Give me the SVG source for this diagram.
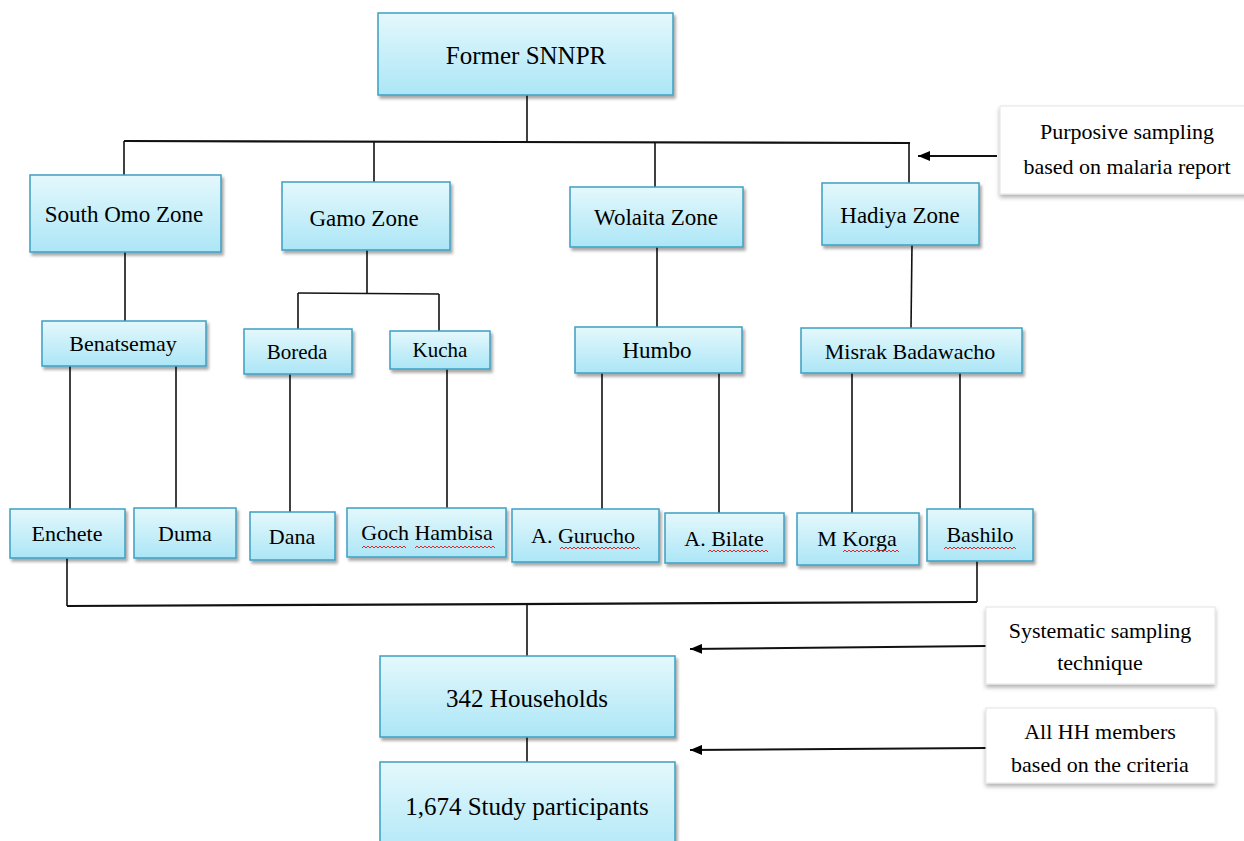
<svg xmlns="http://www.w3.org/2000/svg" width="1244" height="841" viewBox="0 0 1244 841">
<defs>
<linearGradient id="bg" x1="0" y1="0" x2="0" y2="1">
<stop offset="0" stop-color="#e4f8fc"/>
<stop offset="1" stop-color="#ace6f6"/>
</linearGradient>
<filter id="sh" x="-10%" y="-10%" width="125%" height="140%">
<feDropShadow dx="2" dy="3" stdDeviation="1.8" flood-color="#000" flood-opacity="0.35"/>
</filter>
<filter id="sh2" x="-10%" y="-10%" width="125%" height="140%">
<feDropShadow dx="0" dy="3" stdDeviation="2.2" flood-color="#000" flood-opacity="0.3"/>
</filter>
<marker id="ah" markerWidth="13" markerHeight="10" refX="12" refY="5" orient="auto" markerUnits="userSpaceOnUse">
<path d="M0,0 L12,5 L0,10 Z" fill="#000"/>
</marker>
</defs>
<style>
.n rect{fill:url(#bg);stroke:#3d9fc2;stroke-width:1.5;filter:url(#sh)}
.a rect{fill:#fff;stroke:#e4e4e4;stroke-width:1;filter:url(#sh2)}
text{font-family:"Liberation Serif","Times New Roman",serif;fill:#000;text-anchor:middle;dominant-baseline:central}
.t23{font-size:23px}
.t22{font-size:22px}
.t21{font-size:21px}
.t25{font-size:25px}
.c line{stroke:#111;stroke-width:1.6;fill:none}
.c .thick{stroke-width:2.2}
.sq{fill:none;stroke:#e02828;stroke-width:1}
</style>

<g class="c" id="connectors">
<line x1="527" y1="95" x2="527" y2="142"/>
<line class="thick" x1="124" y1="141" x2="910" y2="143"/>
<line x1="124" y1="141" x2="124" y2="175"/>
<line x1="374" y1="142" x2="374" y2="182"/>
<line x1="655" y1="142" x2="655" y2="187"/>
<line x1="909" y1="143" x2="909" y2="183"/>
<line x1="125" y1="252" x2="125" y2="321"/>
<line x1="367" y1="250" x2="367" y2="293"/>
<line x1="298" y1="293" x2="439" y2="294"/>
<line x1="298" y1="293" x2="298" y2="329"/>
<line x1="439" y1="294" x2="439" y2="331"/>
<line x1="657" y1="247" x2="657" y2="327"/>
<line x1="912" y1="245" x2="911" y2="328"/>
<line x1="70" y1="366" x2="70" y2="509"/>
<line x1="176" y1="366" x2="176" y2="508"/>
<line x1="290" y1="374" x2="290" y2="512"/>
<line x1="447" y1="369" x2="447" y2="508"/>
<line x1="602" y1="373" x2="602" y2="509"/>
<line x1="719" y1="373" x2="719" y2="513"/>
<line x1="852" y1="373" x2="852" y2="513"/>
<line x1="960" y1="373" x2="960" y2="509"/>
<line x1="67" y1="558" x2="67" y2="606"/>
<line x1="977" y1="561" x2="977" y2="602"/>
<line class="thick" x1="67" y1="606" x2="977" y2="602"/>
<line x1="527" y1="604" x2="527" y2="656"/>
<line x1="527" y1="737" x2="527" y2="762"/>
<line class="thick" x1="997" y1="156" x2="918" y2="156" marker-end="url(#ah)"/>
<line class="thick" x1="986" y1="646" x2="690" y2="649" marker-end="url(#ah)"/>
<line class="thick" x1="986" y1="748" x2="690" y2="750" marker-end="url(#ah)"/>
</g>

<g class="n" id="former-snnpr"><rect x="378" y="13" width="295" height="82"/><text class="t25" x="526" y="55">Former SNNPR</text></g>

<g class="n" id="south-omo"><rect x="30" y="175" width="191" height="77"/><text class="t23" x="124" y="214">South Omo Zone</text></g>
<g class="n" id="gamo"><rect x="282" y="182" width="168" height="68"/><text class="t23" x="364" y="218">Gamo Zone</text></g>
<g class="n" id="wolaita"><rect x="570" y="187" width="173" height="60"/><text class="t23" x="656" y="217">Wolaita Zone</text></g>
<g class="n" id="hadiya"><rect x="822" y="183" width="157" height="62"/><text class="t23" x="900" y="215">Hadiya Zone</text></g>

<g class="n" id="benatsemay"><rect x="42" y="321" width="164" height="45"/><text class="t22" x="123" y="343">Benatsemay</text></g>
<g class="n" id="boreda"><rect x="244" y="329" width="108" height="45"/><text class="t21" x="297" y="352">Boreda</text></g>
<g class="n" id="kucha"><rect x="390" y="331" width="100" height="38"/><text class="t21" x="440" y="350">Kucha</text></g>
<g class="n" id="humbo"><rect x="575" y="327" width="167" height="46"/><text class="t23" x="657" y="350">Humbo</text></g>
<g class="n" id="misrak"><rect x="801" y="328" width="221" height="45"/><text class="t22" x="910" y="351">Misrak Badawacho</text></g>

<g class="n" id="enchete"><rect x="10" y="509" width="115" height="49"/><text class="t22" x="67" y="533">Enchete</text></g>
<g class="n" id="duma"><rect x="134" y="508" width="102" height="50"/><text class="t22" x="185" y="533">Duma</text></g>
<g class="n" id="dana"><rect x="250" y="512" width="85" height="48"/><text class="t22" x="292" y="536">Dana</text></g>
<g class="n" id="goch-hambisa"><rect x="347" y="508" width="159" height="49"/><text class="t22" x="427" y="532">Goch Hambisa</text>
<path class="sq" d="M362,548 l2,-2 l2,2 l2,-2 l2,2 l2,-2 l2,2 l2,-2 l2,2 l2,-2 l2,2 l2,-2 l2,2 l2,-2 l2,2 l2,-2 l2,2 l2,-2 l2,2 l2,-2 l2,2 l2,-2 l2,2"/>
<path class="sq" d="M415,548 l2,-2 l2,2 l2,-2 l2,2 l2,-2 l2,2 l2,-2 l2,2 l2,-2 l2,2 l2,-2 l2,2 l2,-2 l2,2 l2,-2 l2,2 l2,-2 l2,2 l2,-2 l2,2 l2,-2 l2,2 l2,-2 l2,2 l2,-2 l2,2 l2,-2 l2,2 l2,-2 l2,2 l2,-2 l2,2 l2,-2 l2,2 l2,-2 l2,2 l2,-2 l2,2 l2,-2 l2,2"/></g>
<g class="n" id="a-gurucho"><rect x="512" y="509" width="147" height="53"/><text class="t22" x="583" y="535">A. Gurucho</text>
<path class="sq" d="M560,549 l2,-2 l2,2 l2,-2 l2,2 l2,-2 l2,2 l2,-2 l2,2 l2,-2 l2,2 l2,-2 l2,2 l2,-2 l2,2 l2,-2 l2,2 l2,-2 l2,2 l2,-2 l2,2 l2,-2 l2,2 l2,-2 l2,2 l2,-2 l2,2 l2,-2 l2,2 l2,-2 l2,2 l2,-2 l2,2 l2,-2 l2,2 l2,-2 l2,2 l2,-2 l2,2 l2,-2 l2,2"/></g>
<g class="n" id="a-bilate"><rect x="665" y="513" width="119" height="50"/><text class="t22" x="724" y="538">A. Bilate</text>
<path class="sq" d="M708,552 l2,-2 l2,2 l2,-2 l2,2 l2,-2 l2,2 l2,-2 l2,2 l2,-2 l2,2 l2,-2 l2,2 l2,-2 l2,2 l2,-2 l2,2 l2,-2 l2,2 l2,-2 l2,2 l2,-2 l2,2 l2,-2 l2,2 l2,-2 l2,2 l2,-2 l2,2 l2,-2 l2,2"/></g>
<g class="n" id="m-korga"><rect x="797" y="513" width="122" height="52"/><text class="t22" x="857" y="538">M Korga</text>
<path class="sq" d="M843,552 l2,-2 l2,2 l2,-2 l2,2 l2,-2 l2,2 l2,-2 l2,2 l2,-2 l2,2 l2,-2 l2,2 l2,-2 l2,2 l2,-2 l2,2 l2,-2 l2,2 l2,-2 l2,2 l2,-2 l2,2 l2,-2 l2,2 l2,-2 l2,2 l2,-2 l2,2"/></g>
<g class="n" id="bashilo"><rect x="927" y="509" width="106" height="52"/><text class="t22" x="980" y="534">Bashilo</text>
<path class="sq" d="M944,549 l2,-2 l2,2 l2,-2 l2,2 l2,-2 l2,2 l2,-2 l2,2 l2,-2 l2,2 l2,-2 l2,2 l2,-2 l2,2 l2,-2 l2,2 l2,-2 l2,2 l2,-2 l2,2 l2,-2 l2,2 l2,-2 l2,2 l2,-2 l2,2 l2,-2 l2,2 l2,-2 l2,2 l2,-2 l2,2 l2,-2 l2,2 l2,-2 l2,2"/></g>

<g class="n" id="households"><rect x="380" y="656" width="295" height="81"/><text class="t25" x="527" y="698">342 Households</text></g>
<g class="n" id="participants"><rect x="380" y="762" width="295" height="100"/><text class="t25" x="527" y="806">1,674 Study participants</text></g>

<g class="a" id="purposive"><rect x="1000" y="106" width="250" height="88"/><text class="t22" x="1127" y="131">Purposive sampling</text><text class="t22" x="1127" y="166">based on malaria report</text></g>
<g class="a" id="systematic"><rect x="986" y="607" width="229" height="77"/><text class="t22" x="1100" y="630">Systematic sampling</text><text class="t22" x="1100" y="662">technique</text></g>
<g class="a" id="all-hh"><rect x="986" y="708" width="229" height="75"/><text class="t22" x="1100" y="731">All HH members</text><text class="t22" x="1100" y="764">based on the criteria</text></g>
</svg>
